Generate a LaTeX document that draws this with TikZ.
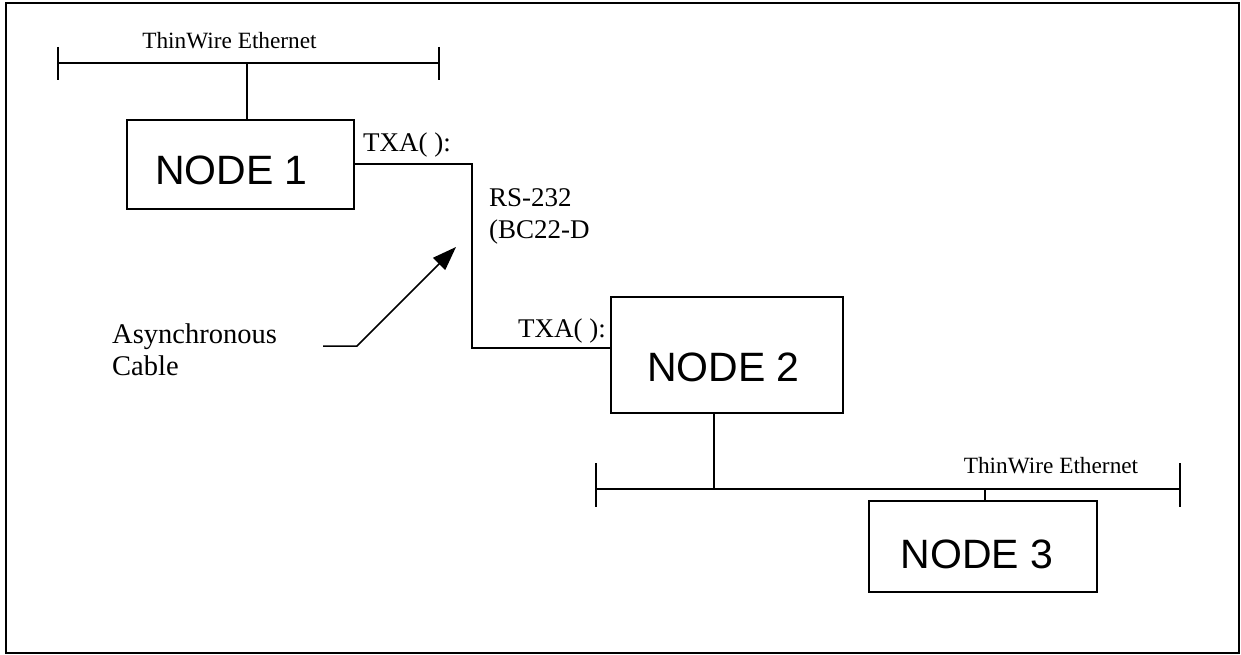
\documentclass[tikz,border=0pt]{standalone}
\usepackage{fontspec}
\setmainfont{Liberation Serif}
\newfontfamily\boxfont{Liberation Sans}
\usetikzlibrary{arrows.meta}

\begin{document}
\begin{tikzpicture}[x=1pt,y=-1pt,
    hostbox/.style={draw,line width=2.5pt,inner sep=0pt,text depth=0pt,font=\boxfont\fontsize{41}{49}\selectfont},
    wire/.style={line width=2pt},
    lbl/.style={inner sep=0pt,align=left,font=\fontsize{27}{31.5}\selectfont},
    netlbl/.style={inner sep=0pt,anchor=base,font=\fontsize{23.3}{27}\selectfont}]
  \useasboundingbox (0,0) rectangle (1241,655);
  \draw[line width=2.5pt] (6,3) rectangle (1239,653);

  % the three hosts
  \node[hostbox,minimum width=227pt,minimum height=89pt,text height=40.5pt] (n1) at (240.5,164.5) {NODE 1\kern18pt};
  \node[hostbox,minimum width=232pt,minimum height=116pt,text height=53.5pt] (n2) at (727,355) {NODE 2\kern7pt};
  \node[hostbox,minimum width=228pt,minimum height=91pt,text height=44.5pt] (n3) at (983,546.5) {NODE 3\kern12pt};

  % ethernet segments with end marks
  \foreach \name/\xa/\xb/\y/\up/\dn in {eth1/58/439/63/16/17, eth2/596/1180/489/26/18} {
    \draw[wire] (\xa,\y) coordinate (\name l) -- (\xb,\y) coordinate (\name r);
    \draw[wire] (\xa,\y-\up) -- (\xa,\y+\dn);
    \draw[wire] (\xb,\y-\up) -- (\xb,\y+\dn);
  };
  \node[netlbl] (net1) at (229.5,49) {ThinWire Ethernet};
  \node[netlbl] (net2) at (1051,473) {ThinWire Ethernet};

  % taps
  \coordinate (tap1) at (247,63);
  \coordinate (tap2) at (714,489);
  \coordinate (tap3) at (985,489);
  \draw[wire] (tap1) -- (tap1 |- n1.north);
  \draw[wire] (tap2 |- n2.south) -- (tap2);
  \draw[wire] (tap3) -- (tap3 |- n3.north);

  % serial line
  \coordinate (bend) at (472,348);
  \draw[wire] (n1.east) -| (bend) -- (bend -| n2.west);
  \node[lbl,anchor=base west] (txa1) at (363,152) {TXA( ):};
  \node[lbl,anchor=base east] (txa2) at (606,337) {TXA( ):};
  \node[lbl,anchor=base west] (rs) at (489,238) {RS-232\\(BC22-D};

  % pointer
  \node[lbl,anchor=base west,font=\fontsize{28.5}{32}\selectfont] (async) at (112,375) {Asynchronous\\Cable};
  \coordinate (tail) at (323,346);
  \coordinate (kink) at (357,346);
  \coordinate (tip) at (456,247);
  \draw[line width=1.5pt,-{Triangle[length=24pt,width=17pt]}] (tail) -- (kink) -- (tip);
\end{tikzpicture}
\end{document}
